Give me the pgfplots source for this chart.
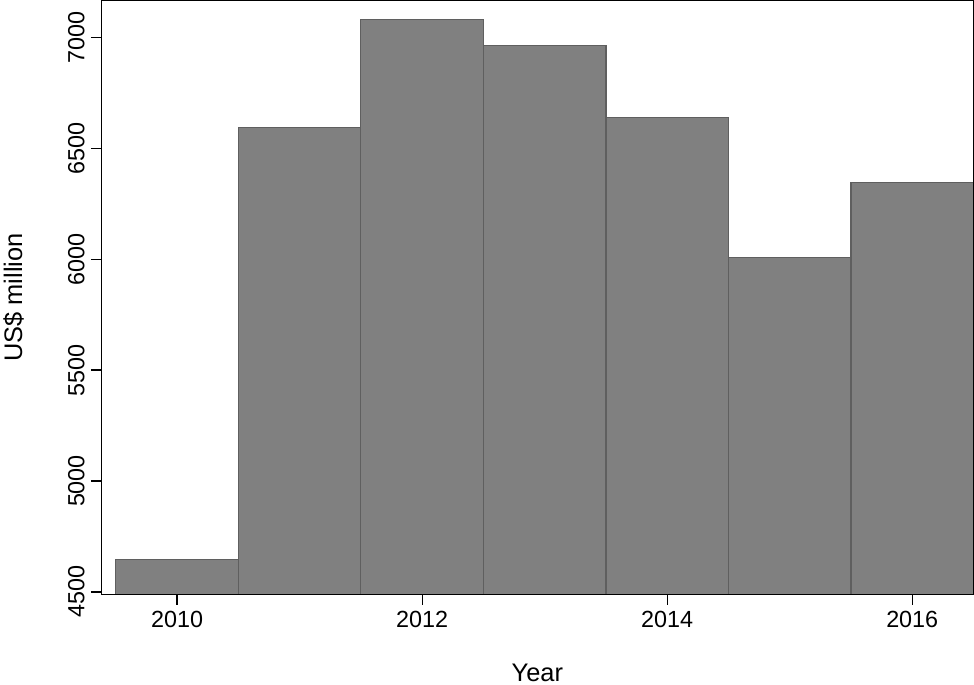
\documentclass[border=0pt]{standalone}
\usepackage{pgfplots}
\pgfplotsset{compat=1.18}
\usepackage{fontspec}
\setmainfont{Liberation Sans}
\begin{document}
\begin{tikzpicture}
\begin{axis}[
  scale only axis, width=859pt, height=585pt,
  xmin=2009.38, xmax=2016.5, ymin=4488, ymax=7166,
  ybar, bar width=1, bar shift=0,
  axis on top,
  xtick={2010,2012,2014,2016},
  ytick={4500,5000,5500,6000,6500,7000},
  xtick pos=bottom, ytick pos=left,
  yticklabel style={rotate=90, anchor=south, inner sep=6pt},
  xticklabel style={inner sep=6pt},
  /pgf/number format/assume math mode=true,
  /pgf/number format/1000 sep={},
  tick label style={font=\fontsize{23}{27}\selectfont},
  label style={font=\fontsize{25}{29}\selectfont},
  xlabel={Year}, ylabel={US\$ million},
  xlabel style={yshift=-26pt}, ylabel style={yshift=34pt},
  tick align=outside, major tick length=10pt,
  every tick/.style={line width=1.2pt, black},
  axis line style={line width=1pt},
  clip=true,
]
\addplot[fill={rgb,255:red,128;green,128;blue,128}, draw={rgb,255:red,95;green,95;blue,95}, line width=1.2pt]
coordinates {(2010,4647) (2011,6595) (2012,7081) (2013,6962) (2014,6640) (2015,6006) (2016,6347)};
\end{axis}
\end{tikzpicture}
\end{document}
